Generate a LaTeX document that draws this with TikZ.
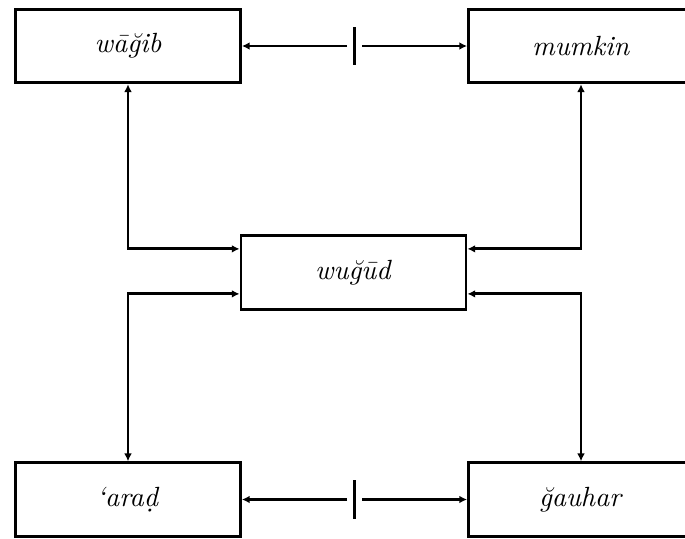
\documentclass[tikz,border=0pt]{standalone}
\usetikzlibrary{arrows.meta,calc}
\tikzset{
  term/.style={draw, line width=1.05pt, minimum width=81pt, minimum height=26.5pt, inner sep=0pt},
  link/.style={{Latex[length=2.8pt,width=2.8pt]}-{Latex[length=2.8pt,width=2.8pt]}, line width=1.05pt},
  half/.style={-{Latex[length=2.8pt,width=2.8pt]}, line width=1.05pt},
  stroke/.style={line width=1.2pt}
}
\begin{document}
\begin{tikzpicture}[x=0.36pt,y=0.36pt]
\clip (0,0) rectangle (685,538);
% the five terms
\node[term] (wagib)  at (128,492)   {\textit{w\=a\u{g}ib}};
\node[term] (mumkin) at (581,492)   {\textit{mumkin}};
\node[term] (wugud)  at (353.5,265.5) {\textit{wu\u{g}\=ud}};
\node[term] (arad)   at (128,38.5)  {\textit{`ara\d{d}}};
\node[term] (gauhar) at (581,38.5)  {\textit{\u{g}auhar}};
% contraries
\coordinate (topmid) at ($(wagib.east)!0.5!(mumkin.west)$);
\coordinate (botmid) at ($(arad.east)!0.5!(gauhar.west)$);
\draw[half] ([xshift=-2.7pt]topmid) -- (wagib.east);
\draw[half] ([xshift=2.7pt]topmid) -- (mumkin.west);
\draw[stroke] ([yshift=6.8pt]topmid) -- ([yshift=-6.8pt]topmid);
\draw[half] ([xshift=-2.7pt]botmid) -- (arad.east);
\draw[half] ([xshift=2.7pt]botmid) -- (gauhar.west);
\draw[stroke] ([yshift=7pt]botmid) -- ([yshift=-7pt]botmid);
% links to wugud
\draw[link] (wagib.south) |- ([yshift=8.5pt]wugud.west);
\draw[link] (arad.north) |- ([yshift=-7.7pt]wugud.west);
\draw[link] (mumkin.south) |- ([yshift=8.5pt]wugud.east);
\draw[link] (gauhar.north) |- ([yshift=-7.7pt]wugud.east);
\end{tikzpicture}
\end{document}
